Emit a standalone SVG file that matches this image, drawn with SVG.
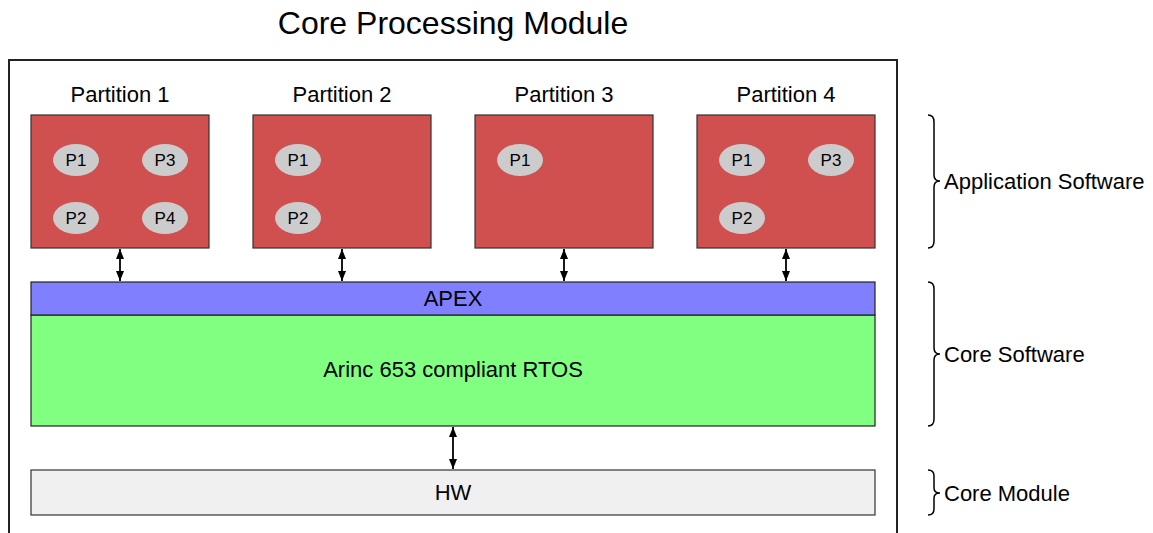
<svg xmlns="http://www.w3.org/2000/svg" width="1153" height="533" viewBox="0 0 1153 533">
<style>
text{font-family:"Liberation Sans",Arial,sans-serif;fill:#000;}
.part{fill:#D05050;stroke:#333;stroke-width:1.2;}
.proc{fill:#CCCCCC;stroke:none;}
.pt{font-size:17px;text-anchor:middle;}
.lbl{font-size:22px;text-anchor:middle;}
.side{font-size:22px;}
.brace{fill:none;stroke:#000;stroke-width:1.5;}
.conn{stroke:#000;stroke-width:1.8;marker-start:url(#ah);marker-end:url(#ah);}
</style>
<defs>
<marker id="ah" viewBox="0 0 10 8" refX="10" refY="4" markerWidth="10" markerHeight="8" markerUnits="userSpaceOnUse" orient="auto-start-reverse">
<path d="M0,0 L10,4 L0,8 z" fill="#000"/>
</marker>
</defs>
<rect width="1153" height="533" fill="#fff"/>
<text x="453" y="34" font-size="32" text-anchor="middle">Core Processing Module</text>
<path d="M9,540 L9,60 L897,60 L897,540" fill="none" stroke="#222" stroke-width="2"/>

<g id="partition1">
<text class="lbl" x="120" y="102">Partition 1</text>
<rect class="part" x="31" y="115" width="178" height="133"/>
<ellipse class="proc" cx="76" cy="160" rx="23" ry="16"/><text class="pt" x="76" y="166">P1</text>
<ellipse class="proc" cx="165" cy="160" rx="23" ry="16"/><text class="pt" x="165" y="166">P3</text>
<ellipse class="proc" cx="76" cy="218" rx="23" ry="16"/><text class="pt" x="76" y="224">P2</text>
<ellipse class="proc" cx="165" cy="218" rx="23" ry="16"/><text class="pt" x="165" y="224">P4</text>
</g>
<g id="partition2">
<text class="lbl" x="342" y="102">Partition 2</text>
<rect class="part" x="253" y="115" width="178" height="133"/>
<ellipse class="proc" cx="298" cy="160" rx="23" ry="16"/><text class="pt" x="298" y="166">P1</text>
<ellipse class="proc" cx="298" cy="218" rx="23" ry="16"/><text class="pt" x="298" y="224">P2</text>
</g>
<g id="partition3">
<text class="lbl" x="564" y="102">Partition 3</text>
<rect class="part" x="475" y="115" width="178" height="133"/>
<ellipse class="proc" cx="520" cy="160" rx="23" ry="16"/><text class="pt" x="520" y="166">P1</text>
</g>
<g id="partition4">
<text class="lbl" x="786" y="102">Partition 4</text>
<rect class="part" x="697" y="115" width="178" height="133"/>
<ellipse class="proc" cx="742" cy="160" rx="23" ry="16"/><text class="pt" x="742" y="166">P1</text>
<ellipse class="proc" cx="831" cy="160" rx="23" ry="16"/><text class="pt" x="831" y="166">P3</text>
<ellipse class="proc" cx="742" cy="218" rx="23" ry="16"/><text class="pt" x="742" y="224">P2</text>
</g>
<g id="rtos">
<rect x="31" y="315" width="844" height="111" fill="#80FF80" stroke="#222" stroke-width="1.2"/>
<text class="lbl" x="453" y="377">Arinc 653 compliant RTOS</text>
</g>
<g id="apex">
<rect x="31" y="282" width="844" height="33" fill="#8080FF" stroke="#222" stroke-width="1.2"/>
<text class="lbl" x="453" y="306">APEX</text>
</g>
<g id="hw">
<rect x="31" y="470" width="844" height="45" fill="#F0F0F0" stroke="#333" stroke-width="1.2"/>
<text class="lbl" x="453" y="500">HW</text>
</g>
<g id="connectors">
<line class="conn" x1="120" y1="249" x2="120" y2="281"/>
<line class="conn" x1="342" y1="249" x2="342" y2="281"/>
<line class="conn" x1="564" y1="249" x2="564" y2="281"/>
<line class="conn" x1="786" y1="249" x2="786" y2="281"/>
<line class="conn" x1="453" y1="427" x2="453" y2="469"/>
</g>
<g id="labels">
<path class="brace" d="M928,115 Q934,115 934,122 L934,175 Q934,181 940,181 Q934,181 934,187 L934,241 Q934,248 928,248"/>
<text class="side" x="944" y="189">Application Software</text>
<path class="brace" d="M928,282 Q934,282 934,289 L934,348 Q934,354 940,354 Q934,354 934,360 L934,419 Q934,426 928,426"/>
<text class="side" x="944" y="362">Core Software</text>
<path class="brace" d="M928,470 Q934,470 934,476 L934,488 Q934,493 940,493 Q934,493 934,498 L934,509 Q934,515 928,515"/>
<text class="side" x="944" y="501">Core Module</text>
</g>
</svg>
